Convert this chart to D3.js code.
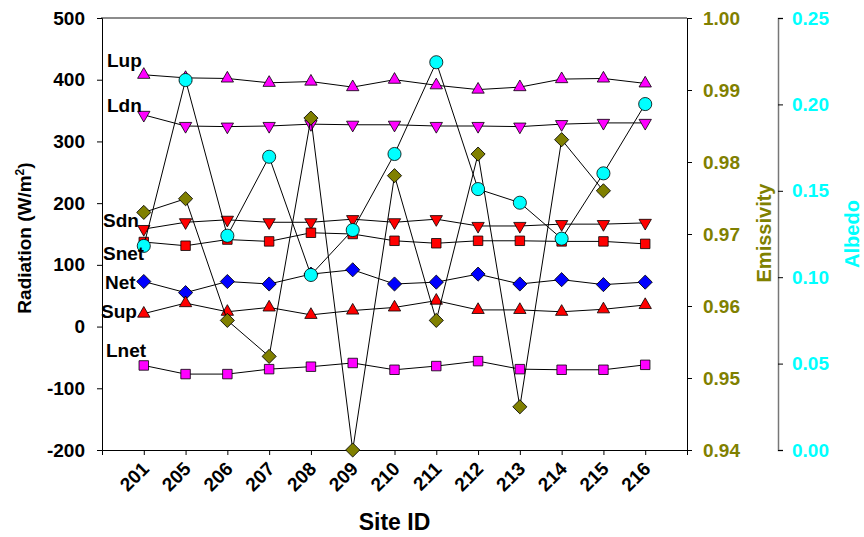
<!DOCTYPE html>
<html>
<head>
<meta charset="utf-8">
<script src="https://cdn.jsdelivr.net/npm/d3@7"></script>
<style>
  body { margin: 0; background: #fff; }
  text { font-family: "Liberation Sans", Arial, sans-serif; font-weight: bold; }
</style>
</head>
<body>
<div id="chart"></div>
<script>
// site ids along the bottom
const sites = ['201', '205', '206', '207', '208', '209', '210', '211', '212', '213', '214', '215', '216'];

// radiation components (W/m2)
const lup  = [408, 403, 402, 395, 397, 388, 400, 391, 384, 388, 401, 402, 394];
const ldn  = [343, 325, 324, 325, 328, 327, 327, 325, 325, 324, 328, 330, 330];
const sdn  = [158, 169, 173, 169, 169, 174, 169, 174, 163, 163, 166, 166, 168];
const snet = [137, 131, 141, 138, 152, 150, 139, 135, 139, 139, 138, 138, 134];
const net  = [73, 55, 73, 69, 85, 92, 69, 72, 85, 69, 76, 68, 72];
const sup  = [21, 38, 24, 31, 19, 26, 31, 42, 27, 27, 24, 28, 35];
const lnet = [-63, -77, -77, -69, -65, -59, -70, -64, -56, -69, -70, -70, -62];

// surface properties
const emissivity = [0.9730, 0.9749, 0.9580, 0.9530, 0.9861, 0.9400, 0.9781, 0.9580, 0.9811, 0.9460, 0.9831, 0.9760, null];
const albedo = [0.1181, 0.2141, 0.1240, 0.1697, 0.1013, 0.1273, 0.1713, 0.2244, 0.1510, 0.1431, 0.1223, 0.1601, 0.2002];

// tick values
const radTicks = [-200, -100, 0, 100, 200, 300, 400, 500];
const emisTicks = [0.94, 0.95, 0.96, 0.97, 0.98, 0.99, 1.00];
const albTicks = [0, 0.05, 0.10, 0.15, 0.20, 0.25];

const width = 864, height = 537;
const plot = { left: 102, right: 687, top: 18, bottom: 450 };
const albedoAxisX = 778;

const svg = d3.select('#chart').append('svg')
  .attr('width', width)
  .attr('height', height);

const x = d3.scaleLinear().domain([0, sites.length + 1]).range([plot.left, plot.right]);
const yRad = d3.scaleLinear().domain([-200, 500]).range([plot.bottom, plot.top]);
const yEmis = d3.scaleLinear().domain([0.94, 1.00]).range([plot.bottom, plot.top]);
const yAlb = d3.scaleLinear().domain([0, 0.25]).range([plot.bottom, plot.top]);

// top frame line (grey)
svg.append('line')
  .attr('x1', plot.left - 1).attr('x2', plot.right)
  .attr('y1', plot.top).attr('y2', plot.top)
  .attr('stroke', '#666').attr('stroke-width', 1.5);

// left axis (plain hyphen for negatives)
const leftAxis = svg.append('g')
  .attr('transform', `translate(${plot.left},0)`)
  .call(d3.axisLeft(yRad).tickValues(radTicks).tickFormat(d => String(d)).tickSize(5).tickPadding(12));

// bottom axis
const bottomAxis = svg.append('g')
  .attr('transform', `translate(0,${plot.bottom})`)
  .call(d3.axisBottom(x).tickValues(d3.range(1, sites.length + 1)).tickSize(5).tickFormat(''));
bottomAxis.selectAll('.tick').append('text')
  .attr('fill', '#000')
  .attr('text-anchor', 'end')
  .attr('transform', 'translate(6,20) rotate(-45)')
  .text(d => sites[d - 1]);

// emissivity axis
const emisAxis = svg.append('g')
  .attr('transform', `translate(${plot.right},0)`)
  .call(d3.axisRight(yEmis).tickValues(emisTicks).tickFormat(d3.format('.2f')).tickSize(5).tickPadding(11));
emisAxis.selectAll('.tick text').attr('fill', '#808000');

// albedo axis
const albAxis = svg.append('g')
  .attr('transform', `translate(${albedoAxisX},0)`)
  .call(d3.axisRight(yAlb).tickValues(albTicks).tickFormat(d3.format('.2f')).tickSize(5).tickPadding(9));
albAxis.select('.domain').attr('stroke', '#777').attr('stroke-width', 1.5);
albAxis.selectAll('.tick text').attr('fill', '#00ffff');

[leftAxis, bottomAxis, emisAxis, albAxis].forEach(a => a.selectAll('.tick text').style('font-size', '19px'));
[leftAxis, bottomAxis, emisAxis].forEach(a => a.select('.domain').attr('stroke', '#000'));

// axis titles
svg.append('text')
  .attr('transform', `translate(31,238) rotate(-90)`)
  .attr('text-anchor', 'middle')
  .style('font-size', '19px')
  .html('Radiation (W/m<tspan baseline-shift="super" font-size="12px">2</tspan>)');

svg.append('text')
  .attr('transform', `translate(771,233) rotate(-90)`)
  .attr('text-anchor', 'middle')
  .attr('fill', '#808000')
  .style('font-size', '20px')
  .text('Emissivity');

svg.append('text')
  .attr('transform', `translate(859,234) rotate(-90)`)
  .attr('text-anchor', 'middle')
  .attr('fill', '#00ffff')
  .style('font-size', '20px')
  .text('Albedo');

svg.append('text')
  .attr('x', (plot.left + plot.right) / 2)
  .attr('y', 530)
  .attr('text-anchor', 'middle')
  .style('font-size', '23px')
  .text('Site ID');

// series drawing
const triUp = d3.symbol().type(d3.symbolTriangle).size(66);
const square = d3.symbol().type(d3.symbolSquare).size(90);
const diamond = d3.symbol().type(d3.symbolSquare).size(100);
const circle = d3.symbol().type(d3.symbolCircle).size(135);

const series = [
  { values: lup,  y: yRad, shape: triUp,   rot: 0,   color: '#ff00ff' },
  { values: ldn,  y: yRad, shape: triUp,   rot: 180, color: '#ff00ff' },
  { values: sdn,  y: yRad, shape: triUp,   rot: 180, color: '#ff0000' },
  { values: snet, y: yRad, shape: square,  rot: 0,   color: '#ff0000' },
  { values: net,  y: yRad, shape: diamond, rot: 45,  color: '#0000ff' },
  { values: sup,  y: yRad, shape: triUp,   rot: 0,   color: '#ff0000' },
  { values: lnet, y: yRad, shape: square,  rot: 0,   color: '#ff00ff' },
  { values: emissivity, y: yEmis, shape: diamond, rot: 45, color: '#808000' },
  { values: albedo, y: yAlb, shape: circle, rot: 0, color: '#00ffff' }
];

series.forEach(s => {
  const g = svg.append('g');
  const line = d3.line()
    .defined(d => d != null)
    .x((d, i) => x(i + 1))
    .y(d => s.y(d));
  g.append('path')
    .attr('d', line(s.values))
    .attr('fill', 'none')
    .attr('stroke', '#000')
    .attr('stroke-width', 1);
  g.selectAll('path.mark')
    .data(s.values.map((v, i) => ({ v, i })).filter(d => d.v != null))
    .join('path')
    .attr('class', 'mark')
    .attr('d', s.shape)
    .attr('transform', d => `translate(${x(d.i + 1)},${s.y(d.v)}) rotate(${s.rot})`)
    .attr('fill', s.color)
    .attr('stroke', '#000')
    .attr('stroke-width', 0.8);
});

// series name labels (placed at radiation-scale heights)
const seriesNames = ['Lup', 'Ldn', 'Sdn', 'Snet', 'Net', 'Sup', 'Lnet'];
const labelAt = [
  { dx: 5, v: 421 }, { dx: 5, v: 348 }, { dx: 1, v: 161 }, { dx: 1, v: 108 },
  { dx: 3, v: 61 }, { dx: -1, v: 14 }, { dx: 4, v: -50 }
];
svg.append('g').selectAll('text')
  .data(seriesNames)
  .join('text')
  .attr('x', (d, i) => plot.left + labelAt[i].dx)
  .attr('y', (d, i) => yRad(labelAt[i].v))
  .style('font-size', '19px')
  .text(d => d);
</script>
</body>
</html>
